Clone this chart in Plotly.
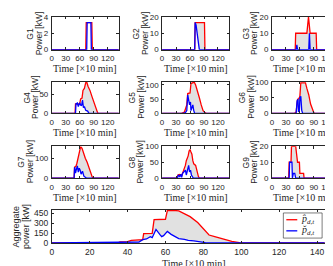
import plotly.graph_objects as go

W, H = 333, 266

# ---------------- data: time index (x10 min), power (kW) ----------------
# upper (red) and lower (blue) envelopes per group
g1_hi_t = [0, 73, 74, 86, 87, 144]
g1_hi_p = [0, 0, 3.3, 3.3, 0, 0]
g1_lo_t = [0, 75, 76, 84, 85, 144]
g1_lo_p = [0, 0, 3.3, 3.3, 0, 0]

g2_hi_t = [0, 70, 71, 91, 92, 144]
g2_hi_p = [0, 0, 16.5, 16.5, 0, 0]
g2_lo_t = [0, 70, 71, 73, 79, 80, 144]
g2_lo_p = [0, 0, 16.5, 15, 2, 0, 0]

g3_hi_t = [0, 50, 51, 75, 78.5, 82, 95, 96, 144]
g3_hi_p = [0, 0, 10, 10, 20, 10, 10, 0, 0]
g3_lo_t = [0, 52, 53.5, 55, 79, 80.5, 82, 144]
g3_lo_p = [0, 0, 3, 0, 0, 10, 0, 0]

g4_hi_t = [0, 50, 51, 60, 62, 65, 67, 70, 73, 75, 78, 82, 86, 90, 94, 98, 100, 144]
g4_hi_p = [0, 0, 25, 25, 38, 40, 60, 65, 80, 82, 70, 60, 45, 30, 15, 3, 0, 0]
g4_lo_t = [0, 51, 52, 55, 57, 60, 62, 64, 66, 68, 70, 73, 77, 80, 144]
g4_lo_p = [0, 0, 25, 27, 18, 28, 22, 20, 35, 15, 18, 8, 6, 0, 0]

g5_hi_t = [0, 42, 48, 51, 53, 55, 60, 62, 66, 69, 72, 76, 80, 84, 88, 92, 95, 144]
g5_hi_p = [0, 0, 5, 25, 30, 70, 72, 105, 108, 110, 100, 80, 55, 30, 10, 3, 0, 0]
g5_lo_t = [0, 45, 50, 53, 55, 57, 59, 61, 62, 64, 66, 68, 70, 144]
g5_lo_p = [0, 0, 3, 10, 65, 40, 30, 40, 10, 20, 30, 10, 0, 0]

g6_hi_t = [0, 48, 52, 55, 58, 60, 62, 72, 75, 79, 83, 87, 90, 92, 144]
g6_hi_p = [0, 0, 5, 45, 48, 55, 98, 98, 80, 60, 30, 10, 2, 0, 0]
g6_lo_t = [0, 52, 54, 56, 57, 59, 60, 62, 64, 66, 144]
g6_lo_p = [0, 0, 40, 45, 5, 10, 50, 55, 10, 0, 0]

g7_hi_t = [0, 48, 49, 52, 54, 57, 59, 62, 65, 68, 72, 76, 80, 84, 87, 89, 144]
g7_hi_p = [0, 0, 55, 60, 75, 110, 130, 158, 150, 125, 100, 80, 50, 30, 5, 0, 0]
g7_lo_t = [0, 48, 49, 51, 53, 55, 57, 59, 61, 63, 66, 69, 72, 75, 144]
g7_lo_p = [0, 0, 55, 25, 45, 62, 30, 50, 40, 20, 35, 10, 5, 0, 0]

g8_hi_t = [0, 32, 34, 38, 42, 44, 47, 50, 52, 56, 58, 60, 62, 64, 66, 68, 72, 75, 78, 80, 144]
g8_hi_p = [0, 0, 10, 12, 8, 15, 30, 40, 55, 70, 85, 90, 82, 75, 55, 45, 40, 20, 5, 0, 0]
g8_lo_t = [0, 33, 35, 38, 40, 42, 44, 47, 50, 52, 55, 57, 59, 61, 63, 65, 67, 144]
g8_lo_p = [0, 0, 10, 5, 12, 3, 15, 20, 25, 10, 30, 40, 20, 25, 10, 5, 0, 0]

g9_hi_t = [0, 36, 37, 41, 42, 51, 53, 55, 59, 60, 68, 69, 144]
g9_hi_p = [0, 0, 10, 10, 20, 20, 15, 10, 10, 3, 3, 0, 0]
g9_lo_t = [0, 37, 38, 43, 44, 46, 49, 51, 144]
g9_lo_p = [0, 0, 10, 10, 0, 3, 3, 0, 0]

agg_hi_t = [0, 35, 36, 40, 42, 46, 48, 48.5, 53, 54, 60, 61, 64, 67, 70, 73, 77, 80,
            83, 86, 88, 92, 95, 99, 102, 144]
agg_hi_p = [0, 0, 15, 20, 40, 45, 50, 140, 145, 355, 360, 490, 495, 488, 450, 400, 310, 220,
            120, 95, 80, 45, 25, 5, 0, 0]
agg_lo_t = [0, 35, 36, 46, 48, 50, 52, 53, 55, 57, 58, 59, 61, 63, 65, 67, 70, 72, 75, 78,
            81, 84, 144]
agg_lo_p = [0, 0, 10, 12, 50, 60, 95, 80, 205, 130, 95, 110, 175, 130, 100, 65, 55, 40, 30, 15,
            5, 0, 0]

group_names = ["G1", "G2", "G3", "G4", "G5", "G6", "G7", "G8", "G9"]
panel_xticks = [0, 30, 60, 90, 120]
agg_xticks = [0, 20, 40, 60, 80, 100, 120, 140]
panel_yticks = [[0, 2, 4], [0, 10, 20], [0, 10, 20],
                [0, 50], [0, 50, 100], [0, 50, 100],
                [0, 100], [0, 50, 100], [0, 10, 20]]
agg_yticks = [0, 150, 300, 450]
panel_ymax = [4, 20, 20, 83, 112, 102, 160, 100, 20]
agg_ymax = 500

series = [
    (g1_hi_t, g1_hi_p, g1_lo_t, g1_lo_p),
    (g2_hi_t, g2_hi_p, g2_lo_t, g2_lo_p),
    (g3_hi_t, g3_hi_p, g3_lo_t, g3_lo_p),
    (g4_hi_t, g4_hi_p, g4_lo_t, g4_lo_p),
    (g5_hi_t, g5_hi_p, g5_lo_t, g5_lo_p),
    (g6_hi_t, g6_hi_p, g6_lo_t, g6_lo_p),
    (g7_hi_t, g7_hi_p, g7_lo_t, g7_lo_p),
    (g8_hi_t, g8_hi_p, g8_lo_t, g8_lo_p),
    (g9_hi_t, g9_hi_p, g9_lo_t, g9_lo_p),
    (agg_hi_t, agg_hi_p, agg_lo_t, agg_lo_p),
]

# ---------------- layout helpers (pixels) ----------------
cols = [(42, 109.5), (153, 220.5), (263.5, 331)]
rows = [(5, 39), (72, 105), (139, 172)]
agg_box = ((42, 328), (205, 239))

RED = "rgb(255,0,0)"
BLUE = "rgb(0,0,255)"
FILL = "rgb(225,225,225)"
AX = "#262626"
SANS = "Liberation Sans, Arial, sans-serif"
SERIF = "Liberation Serif, Times New Roman, serif"


def px_x(v):
    return v / W


def px_y(v):
    return 1 - v / H


fig = go.Figure()
annotations = []
layout = {}

boxes = []
for i in range(9):
    r, c = divmod(i, 3)
    boxes.append((cols[c], rows[r]))
boxes.append(agg_box)

for k, (hi_t, hi_p, lo_t, lo_p) in enumerate(series):
    n = k + 1
    xa = "x" if n == 1 else f"x{n}"
    ya = "y" if n == 1 else f"y{n}"
    fig.add_trace(go.Scatter(x=list(hi_t) + list(lo_t)[::-1], y=list(hi_p) + list(lo_p)[::-1],
                             fill="toself", fillcolor=FILL, line=dict(width=0),
                             mode="lines", showlegend=False, hoverinfo="skip",
                             xaxis=xa, yaxis=ya))
    fig.add_trace(go.Scatter(x=hi_t, y=hi_p, mode="lines", line=dict(color=RED, width=1.3),
                             showlegend=False, xaxis=xa, yaxis=ya))
    fig.add_trace(go.Scatter(x=lo_t, y=lo_p, mode="lines", line=dict(color=BLUE, width=1.3),
                             showlegend=False, xaxis=xa, yaxis=ya))

    (x0, x1), (y0, y1) = boxes[k]
    is_agg = (k == 9)
    fs = 8.5 if is_agg else 8
    common = dict(showline=True, linecolor=AX, linewidth=0.7, mirror="allticks",
                  ticks="inside", ticklen=2.5, tickwidth=0.7, tickcolor=AX,
                  showgrid=False, zeroline=False,
                  tickfont=dict(family=SANS, size=fs, color=AX))
    xkey = "xaxis" if n == 1 else f"xaxis{n}"
    ykey = "yaxis" if n == 1 else f"yaxis{n}"
    layout[xkey] = dict(common, domain=[px_x(x0), px_x(x1)], anchor=ya,
                        range=[0, 150] if is_agg else [0, 144],
                        tickmode="array", tickvals=agg_xticks if is_agg else panel_xticks,
                        ticklabelstandoff=1)
    yt = agg_yticks if is_agg else panel_yticks[k]
    layout[ykey] = dict(common, domain=[px_y(y1), px_y(y0)], anchor=xa,
                        range=[0, agg_ymax if is_agg else panel_ymax[k]],
                        tickmode="array", tickvals=yt, ticklabelstandoff=1)

    # x title
    annotations.append(dict(text="Time [×10 min]", x=px_x((x0 + x1) / 2),
                            y=px_y(y1 + (21 if is_agg else 19.5)), xref="paper", yref="paper",
                            showarrow=False, xanchor="center", yanchor="middle",
                            font=dict(family=SERIF, size=10, color=AX)))
    # y titles
    wlab = max(len(str(v)) for v in yt) * fs * 0.556
    px_pow = x0 - 3 - wlab - 5.5
    if is_agg:
        annotations.append(dict(text="power [kW]", x=px_x(16.5), y=px_y((y0 + y1) / 2),
                                xref="paper", yref="paper", showarrow=False, textangle=-90,
                                xanchor="center", yanchor="middle",
                                font=dict(family=SANS, size=9, color=AX)))
        annotations.append(dict(text="Aggregate", x=px_x(7), y=px_y((y0 + y1) / 2),
                                xref="paper", yref="paper", showarrow=False, textangle=-90,
                                xanchor="center", yanchor="middle",
                                font=dict(family=SANS, size=9, color=AX)))
    else:
        annotations.append(dict(text="Power [kW]", x=px_x(px_pow), y=px_y((y0 + y1) / 2),
                                xref="paper", yref="paper", showarrow=False, textangle=-90,
                                xanchor="center", yanchor="middle",
                                font=dict(family=SANS, size=8.5, color=AX)))
        annotations.append(dict(text=group_names[k], x=px_x(px_pow - 8.5), y=px_y((y0 + y1) / 2),
                                xref="paper", yref="paper", showarrow=False, textangle=-90,
                                xanchor="center", yanchor="middle",
                                font=dict(family=SANS, size=8.5, color=AX)))

# legend (drawn manually to match the compact MATLAB legend)
shapes = [
    dict(type="rect", xref="paper", yref="paper", x0=px_x(275), x1=px_x(314),
         y0=px_y(234), y1=px_y(208), line=dict(color=AX, width=0.6), fillcolor="white"),
    dict(type="line", xref="paper", yref="paper", x0=px_x(278), x1=px_x(289),
         y0=px_y(215), y1=px_y(215), line=dict(color=RED, width=1.3)),
    dict(type="line", xref="paper", yref="paper", x0=px_x(278), x1=px_x(289),
         y0=px_y(226.5), y1=px_y(226.5), line=dict(color=BLUE, width=1.3)),
]
annotations.append(dict(text="<i>p\u0302</i><sub><i>d,t</i></sub>", x=px_x(291), y=px_y(214.5),
                        xref="paper", yref="paper", showarrow=False, xanchor="left",
                        yanchor="middle", font=dict(family=SERIF, size=10, color=AX)))
annotations.append(dict(text="<i>p\u030C</i><sub><i>d,t</i></sub>", x=px_x(291), y=px_y(226),
                        xref="paper", yref="paper", showarrow=False, xanchor="left",
                        yanchor="middle", font=dict(family=SERIF, size=10, color=AX)))

fig.update_layout(width=W, height=H, margin=dict(l=0, r=0, t=0, b=0),
                  paper_bgcolor="white", plot_bgcolor="white",
                  showlegend=False, annotations=annotations, shapes=shapes, **layout)

fig.write_html("out.html")
